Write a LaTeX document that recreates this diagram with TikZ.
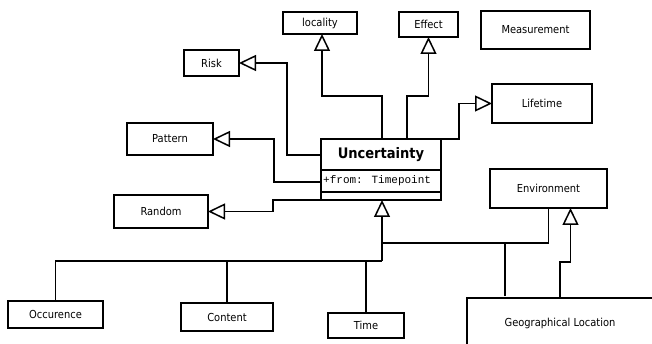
\documentclass[tikz,border=0pt]{standalone}
\usepackage{fontspec}
\setmainfont{DejaVu Sans Condensed}
\newfontfamily\umlmono{Liberation Mono}
\usetikzlibrary{arrows.meta,calc}
\begin{document}
\begin{tikzpicture}[x=1pt,y=-1pt,
  box/.style={draw,line width=1.8pt,inner sep=0pt,outer sep=0pt,font=\fontsize{11}{13}\selectfont,fill=white},
  conn/.style={line width=1.5pt},
  inh/.style={conn,-{Triangle[open,length=17pt,width=16pt,line width=1.5pt]}}]
\useasboundingbox (0,0) rectangle (652,344);
\fill[white] (0,0) rectangle (652,344);
% boxes
\node[box,minimum width=74pt,minimum height=22pt] (loc) at (320,23) {locality};
\node[box,minimum width=59pt,minimum height=25pt] (eff) at (428.5,24.5) {Effect};
\node[box,minimum width=109pt,minimum height=38pt] (meas) at (535.5,30) {Measurement};
\node[box,minimum width=55pt,minimum height=26pt] (risk) at (211.5,63) {Risk};
\node[box,minimum width=100pt,minimum height=39pt] (life) at (542,103.5) {Lifetime};
\node[box,minimum width=86pt,minimum height=32pt] (pat) at (170,139) {Pattern};
\node[box,minimum width=94pt,minimum height=33pt] (rand) at (161,211.5) {Random};
\node[box,minimum width=117pt,minimum height=39pt] (env) at (548.5,188.5) {Environment};
\node[box,minimum width=95pt,minimum height=27pt] (occ) at (55.5,314.5) {Occurence};
\node[box,minimum width=92pt,minimum height=28pt] (cont) at (227,317) {Content};
\node[box,minimum width=76pt,minimum height=25pt] (time) at (366,325.5) {Time};
\node[box,minimum width=193pt,minimum height=54pt] (geo) at (563.5,325) {};
\node[font=\fontsize{11}{13}\selectfont] (geolbl) at (560,323) {Geographical Location};
% Uncertainty class
\node[box,minimum width=120pt,minimum height=61pt] (unc) at (381,169.5) {};
\draw[line width=1.8pt] ($(unc.north west)+(0,31)$) -- ($(unc.north east)+(0,31)$);
\draw[line width=1.8pt] ($(unc.north west)+(0,53)$) -- ($(unc.north east)+(0,53)$);
\node[font=\bfseries\fontsize{14.5}{16}\selectfont] (uncname) at ($(unc.north)+(0,15.5)$) {Uncertainty};
\node[font=\umlmono\fontsize{11}{13}\selectfont,anchor=west,inner sep=0pt] (uncattr) at ($(unc.north west)+(2,42)$) {+from: Timepoint};
% associations to the left
\draw[inh] ($(unc.north west)+(0,16)$) -| ($(risk.east)+(48,0)$) -- (risk.east);
\draw[inh] ($(unc.north west)+(0,43)$) -| ($(pat.east)+(61,0)$) -- (pat.east);
\draw[inh] (unc.south west) -| ($(rand.east)+(65,0)$) -- (rand.east);
% upward
\draw[inh] ($(unc.north west)+(61,0)$) |- ($(loc.south)+(2,62)$) -- ($(loc.south)+(2,0)$);
\draw[inh] ($(unc.north west)+(86,0)$) |- ($(eff.south)+(0,59)$) -- (eff.south);
\draw[inh] (unc.north east) -| ($(life.west)+(-33,0)$) -- (life.west);
% generalisation tree
\coordinate (bus) at ($(unc.south)+(1,61)$);
\coordinate (bus2) at ($(unc.south)+(1,43)$);
\draw[conn] (occ.north) |- (bus);
\draw[conn] (cont.north) -- (cont.north |- bus);
\draw[conn] (time.north) -- (time.north |- bus);
\draw[inh] (bus) -- ($(unc.south)+(1,0)$);
\draw[conn] (env.south) |- (bus2);
\coordinate (g1) at ($(geo.north west)+(38,-2)$);
\draw[conn] (g1) -- (g1 |- bus2);
\draw[inh] ($(geo.north west)+(93,0)$) |- ($(env.south)+(22,54)$) -- ($(env.south)+(22,0)$);
\end{tikzpicture}
\end{document}
